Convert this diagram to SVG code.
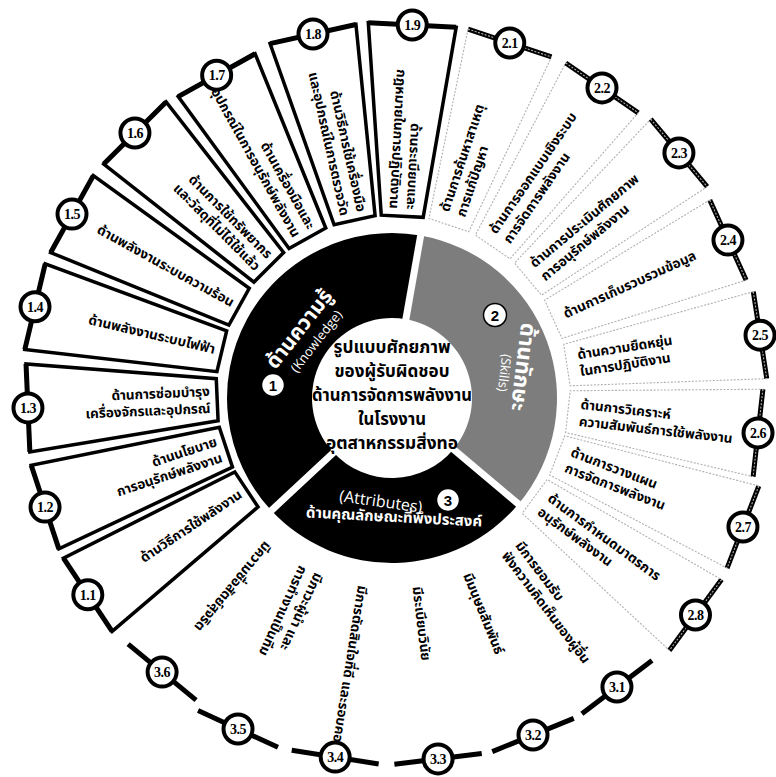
<svg xmlns="http://www.w3.org/2000/svg" width="776" height="777" viewBox="0 0 776 777">
<style>
.ring{stroke:#000;stroke-width:5;fill:none}
.box1{fill:none;stroke:#000;stroke-width:3.5;stroke-linejoin:miter}
.box2{fill:none;stroke:#b0b0b0;stroke-width:1.1;stroke-dasharray:2 1.5}
.node{fill:#fff;stroke:#000;stroke-width:4}
.nl{font-family:'Liberation Serif',serif;font-weight:bold;font-size:14px;text-anchor:middle;letter-spacing:-0.5px}
.ti{font-family:'Noto Sans Thai','Noto Sans Thai UI',Tahoma,'Noto Sans','DejaVu Sans',sans-serif;font-weight:bold;font-size:13.5px;fill:#000}
.in{text-anchor:end}
.sep{stroke:#fff;stroke-width:7}
.ctr{font-family:'Noto Sans Thai','Noto Sans Thai UI',Tahoma,'Noto Sans','DejaVu Sans',sans-serif;font-weight:bold;font-size:17px;text-anchor:middle;fill:#000}
.seg{font-family:'Noto Sans Thai','Noto Sans Thai UI',Tahoma,'Noto Sans','DejaVu Sans',sans-serif;font-weight:bold;fill:#fff;text-anchor:middle}
.lat{font-family:'Open Sans','Noto Sans',sans-serif;fill:#fff;text-anchor:middle}
.num{fill:#fff;stroke:#000;stroke-width:1.5}
.numt{font-family:'Liberation Sans',sans-serif;font-weight:bold;font-size:15px;text-anchor:middle;fill:#000}
</style>
<rect width="776" height="777" fill="#fff"/>

<g id="hub">
 <g id="seg1">
  <path fill="#000" d="M 271.33,510.53 A 165 165 0 0 1 420.65,235.51 L 405.89,319.22 A 80 80 0 0 0 333.49,452.56 Z"/>
  <text class="seg" font-size="21" transform="translate(299,329) rotate(-52)" y="7">ด้านความรู้</text>
  <text class="lat" font-size="13" transform="translate(316,341) rotate(-52)" y="5">(Knowledge)</text>
  <circle class="num" cx="273" cy="385" r="11.5"/><text class="numt" x="273" y="390.5">1</text>
 </g>
 <g id="seg2">
  <path fill="#7d7d7d" d="M 420.65,235.51 A 165 165 0 0 1 518.40,504.06 L 453.28,449.42 A 80 80 0 0 0 405.89,319.22 Z"/>
  <text class="seg" font-size="22" transform="translate(523,367) rotate(97)" y="7">ด้านทักษะ</text>
  <text class="lat" font-size="13" transform="translate(505,373) rotate(97)" y="5">(Skills)</text>
  <circle class="num" cx="495" cy="315" r="11.5"/><text class="numt" x="495" y="320.5">2</text>
 </g>
 <g id="seg3">
  <path fill="#000" d="M 518.40,504.06 A 165 165 0 0 1 271.33,510.53 L 333.49,452.56 A 80 80 0 0 0 453.28,449.42 Z"/>
  <text class="lat" font-size="16" transform="translate(381,501) rotate(8)" y="6">(Attributes)</text>
  <text class="seg" font-size="15" transform="translate(394,517) rotate(3)" y="5">ด้านคุณลักษณะที่พึงประสงค์</text>
  <circle class="num" cx="448" cy="500" r="11.5"/><text class="numt" x="448" y="505.5">3</text>
 </g>
 <line class="sep" x1="405.54" y1="321.18" x2="421.17" y2="232.55"/>
 <line class="sep" x1="451.75" y1="447.86" x2="520.69" y2="505.99"/>
 <line class="sep" x1="334.95" y1="451.20" x2="269.13" y2="512.58"/>
 <g id="center">
  <circle cx="392" cy="398" r="78" fill="#fff"/>
  <text class="ctr" x="392" y="353" textLength="117" lengthAdjust="spacingAndGlyphs">รูปแบบศักยภาพ</text>
  <text class="ctr" x="392" y="377" textLength="115" lengthAdjust="spacingAndGlyphs">ของผู้รับผิดชอบ</text>
  <text class="ctr" x="392" y="401" textLength="160" lengthAdjust="spacingAndGlyphs">ด้านการจัดการพลังงาน</text>
  <text class="ctr" x="392" y="425" textLength="68" lengthAdjust="spacingAndGlyphs">ในโรงงาน</text>
  <text class="ctr" x="392" y="449" textLength="132" lengthAdjust="spacingAndGlyphs">อุตสาหกรรมสิ่งทอ</text>
 </g>
</g>

<g id="connectors">
 <line class="ring" transform="translate(393,392) rotate(-87)" x1="367.5" y1="-44" x2="367.5" y2="44"/>
 <line class="ring" transform="translate(393,392) rotate(-71.5)" x1="368" y1="-44" x2="368" y2="44"/>
 <line class="ring" transform="translate(393,392) rotate(-55.5)" x1="369" y1="-44" x2="369" y2="44"/>
 <line class="ring" transform="translate(393,392) rotate(-39.9)" x1="372.7" y1="-44" x2="372.7" y2="44"/>
 <line class="ring" transform="translate(393,392) rotate(-24.4)" x1="367.8" y1="-44" x2="367.8" y2="44"/>
 <line class="ring" transform="translate(393,392) rotate(-8.8)" x1="371.4" y1="-44" x2="371.4" y2="44"/>
 <line class="ring" transform="translate(393,392) rotate(6.4)" x1="367.3" y1="-44" x2="367.3" y2="44"/>
 <line class="ring" transform="translate(393,392) rotate(21.1)" x1="375.1" y1="-44" x2="375.1" y2="44"/>
 <line class="ring" transform="translate(393,392) rotate(36.4)" x1="375.8" y1="-44" x2="375.8" y2="44"/>
 <line class="ring" transform="translate(393,392) rotate(52.8)" x1="370.4" y1="-44" x2="370.4" y2="44"/>
 <line class="ring" transform="translate(393,392) rotate(67.8)" x1="370.5" y1="-44" x2="370.5" y2="44"/>
 <line class="ring" transform="translate(393,392) rotate(83)" x1="369.7" y1="-44" x2="369.7" y2="44"/>
 <line class="ring" transform="translate(393,392) rotate(99)" x1="369.6" y1="-44" x2="369.6" y2="44"/>
 <line class="ring" transform="translate(393,392) rotate(114.7)" x1="370.9" y1="-44" x2="370.9" y2="44"/>
 <line class="ring" transform="translate(393,392) rotate(129.5)" x1="363" y1="-44" x2="363" y2="44"/>
 <line class="ring" transform="translate(393,392) rotate(146.4)" x1="366.4" y1="-44" x2="366.4" y2="44"/>
 <line class="ring" transform="translate(393,392) rotate(161.7)" x1="366.5" y1="-44" x2="366.5" y2="44"/>
 <line class="ring" transform="translate(393,392) rotate(177.5)" x1="365.4" y1="-44" x2="365.4" y2="44"/>
 <line class="ring" transform="translate(393,392) rotate(193.4)" x1="368" y1="-44" x2="368" y2="44"/>
 <line class="ring" transform="translate(393,392) rotate(209)" x1="367" y1="-44" x2="367" y2="44"/>
 <line class="ring" transform="translate(393,392) rotate(225.1)" x1="365.6" y1="-44" x2="365.6" y2="44"/>
 <line class="ring" transform="translate(393,392) rotate(240.9)" x1="362.6" y1="-44" x2="362.6" y2="44"/>
 <line class="ring" transform="translate(393,392) rotate(257.4)" x1="366.8" y1="-44" x2="366.8" y2="44"/>
</g>

<!-- Knowledge items -->
<g id="item-1-1" transform="translate(393,392) rotate(146.4)">
 <polygon class="box1" points="366.4,-44 366.4,44 176,21 176,-21"/>
 <g transform="rotate(180)"><text class="ti in" x="-183" y="4.5">ด้านวิธีการใช้พลังงาน</text></g>
 <g transform="translate(366.4,0) rotate(-146.4)"><circle class="node" r="14.5"/><text class="nl" y="5">1.1</text></g>
</g>
<g id="item-1-2" transform="translate(393,392) rotate(161.7)">
 <polygon class="box1" points="366.5,-44 366.5,44 176,21 176,-21"/>
 <g transform="rotate(180)"><text class="ti in" x="-183" y="-4">ด้านนโยบาย</text><text class="ti in" x="-183" y="13">การอนุรักษ์พลังงาน</text></g>
 <g transform="translate(366.5,0) rotate(-161.7)"><circle class="node" r="14.5"/><text class="nl" y="5">1.2</text></g>
</g>
<g id="item-1-3" transform="translate(393,392) rotate(177.5)">
 <polygon class="box1" points="365.4,-44 365.4,44 176,21 176,-21"/>
 <g transform="rotate(180)"><text class="ti in" x="-183" y="-4">ด้านการซ่อมบำรุง</text><text class="ti in" x="-183" y="13">เครื่องจักรและอุปกรณ์</text></g>
 <g transform="translate(365.4,0) rotate(-177.5)"><circle class="node" r="14.5"/><text class="nl" y="5">1.3</text></g>
</g>
<g id="item-1-4" transform="translate(393,392) rotate(193.4)">
 <polygon class="box1" points="368,-44 368,44 176,21 176,-21"/>
 <g transform="rotate(180)"><text class="ti in" x="-183" y="4.5">ด้านพลังงานระบบไฟฟ้า</text></g>
 <g transform="translate(368,0) rotate(-193.4)"><circle class="node" r="14.5"/><text class="nl" y="5">1.4</text></g>
</g>
<g id="item-1-5" transform="translate(393,392) rotate(209)">
 <polygon class="box1" points="367,-44 367,44 176,21 176,-21"/>
 <g transform="rotate(180)"><text class="ti in" x="-183" y="4.5">ด้านพลังงานระบบความร้อน</text></g>
 <g transform="translate(367,0) rotate(-209)"><circle class="node" r="14.5"/><text class="nl" y="5">1.5</text></g>
</g>
<g id="item-1-6" transform="translate(393,392) rotate(225.1)">
 <polygon class="box1" points="365.6,-44 365.6,44 176,21 176,-21"/>
 <g transform="rotate(180)"><text class="ti in" x="-183" y="-4">ด้านการใช้ทรัพยากร</text><text class="ti in" x="-183" y="13">และวัสดุที่ไม่ได้ใช้แล้ว</text></g>
 <g transform="translate(365.6,0) rotate(-225.1)"><circle class="node" r="14.5"/><text class="nl" y="5">1.6</text></g>
</g>
<g id="item-1-7" transform="translate(393,392) rotate(240.9)">
 <polygon class="box1" points="362.6,-44 362.6,44 176,21 176,-21"/>
 <g transform="rotate(180)"><text class="ti in" x="-183" y="-4">ด้านเครื่องมือและ</text><text class="ti in" x="-183" y="13">อุปกรณ์ในการอนุรักษ์พลังงาน</text></g>
 <g transform="translate(362.6,0) rotate(-240.9)"><circle class="node" r="14.5"/><text class="nl" y="5">1.7</text></g>
</g>
<g id="item-1-8" transform="translate(393,392) rotate(257.4)">
 <polygon class="box1" points="366.8,-44 366.8,44 176,21 176,-21"/>
 <g transform="rotate(180)"><text class="ti in" x="-183" y="-4">ด้านวิธีการใช้เครื่องมือ</text><text class="ti in" x="-183" y="13">และอุปกรณ์ในการตรวจวัด</text></g>
 <g transform="translate(366.8,0) rotate(-257.4)"><circle class="node" r="14.5"/><text class="nl" y="5">1.8</text></g>
</g>
<g id="item-1-9" transform="translate(393,392) rotate(-87)">
 <polygon class="box1" points="367.5,-44 367.5,44 176,21 176,-21"/>
 <g transform="rotate(180)"><text class="ti in" x="-183" y="-4">ด้านระเบียบและ</text><text class="ti in" x="-183" y="13">กฎหมายในการปฏิบัติงาน</text></g>
 <g transform="translate(367.5,0) rotate(87)"><circle class="node" r="14.5"/><text class="nl" y="5">1.9</text></g>
</g>

<!-- Skills items -->
<g id="item-2-1" transform="translate(393,392) rotate(-71.5)">
 <polygon class="box2" points="368,-44 368,44 176,21 176,-21"/>
 <text class="ti" x="188" y="-4">ด้านการค้นหาสาเหตุ</text><text class="ti" x="188" y="13">การแก้ปัญหา</text>
 <g transform="translate(368,0) rotate(71.5)"><circle class="node" r="14.5"/><text class="nl" y="5">2.1</text></g>
</g>
<g id="item-2-2" transform="translate(393,392) rotate(-55.5)">
 <polygon class="box2" points="369,-44 369,44 176,21 176,-21"/>
 <text class="ti" x="188" y="-4">ด้านการออกแบบเชิงระบบ</text><text class="ti" x="188" y="13">การจัดการพลังงาน</text>
 <g transform="translate(369,0) rotate(55.5)"><circle class="node" r="14.5"/><text class="nl" y="5">2.2</text></g>
</g>
<g id="item-2-3" transform="translate(393,392) rotate(-39.9)">
 <polygon class="box2" points="372.7,-44 372.7,44 176,21 176,-21"/>
 <text class="ti" x="188" y="-4">ด้านการประเมินศักยภาพ</text><text class="ti" x="188" y="13">การอนุรักษ์พลังงาน</text>
 <g transform="translate(372.7,0) rotate(39.9)"><circle class="node" r="14.5"/><text class="nl" y="5">2.3</text></g>
</g>
<g id="item-2-4" transform="translate(393,392) rotate(-24.4)">
 <polygon class="box2" points="367.8,-44 367.8,44 176,21 176,-21"/>
 <text class="ti" x="188" y="4.5">ด้านการเก็บรวบรวมข้อมูล</text>
 <g transform="translate(367.8,0) rotate(24.4)"><circle class="node" r="14.5"/><text class="nl" y="5">2.4</text></g>
</g>
<g id="item-2-5" transform="translate(393,392) rotate(-8.8)">
 <polygon class="box2" points="371.4,-44 371.4,44 176,21 176,-21"/>
 <text class="ti" x="188" y="-4">ด้านความยืดหยุ่น</text><text class="ti" x="188" y="13">ในการปฏิบัติงาน</text>
 <g transform="translate(371.4,0) rotate(8.8)"><circle class="node" r="14.5"/><text class="nl" y="5">2.5</text></g>
</g>
<g id="item-2-6" transform="translate(393,392) rotate(6.4)">
 <polygon class="box2" points="367.3,-44 367.3,44 176,21 176,-21"/>
 <text class="ti" x="188" y="-4">ด้านการวิเคราะห์</text><text class="ti" x="188" y="13">ความสัมพันธ์การใช้พลังงาน</text>
 <g transform="translate(367.3,0) rotate(-6.4)"><circle class="node" r="14.5"/><text class="nl" y="5">2.6</text></g>
</g>
<g id="item-2-7" transform="translate(393,392) rotate(21.1)">
 <polygon class="box2" points="375.1,-44 375.1,44 176,21 176,-21"/>
 <text class="ti" x="188" y="-4">ด้านการวางแผน</text><text class="ti" x="188" y="13">การจัดการพลังงาน</text>
 <g transform="translate(375.1,0) rotate(-21.1)"><circle class="node" r="14.5"/><text class="nl" y="5">2.7</text></g>
</g>
<g id="item-2-8" transform="translate(393,392) rotate(36.4)">
 <polygon class="box2" points="375.8,-44 375.8,44 176,21 176,-21"/>
 <text class="ti" x="188" y="-4">ด้านการกำหนดมาตรการ</text><text class="ti" x="188" y="13">อนุรักษ์พลังงาน</text>
 <g transform="translate(375.8,0) rotate(-36.4)"><circle class="node" r="14.5"/><text class="nl" y="5">2.8</text></g>
</g>

<!-- Attributes items -->
<g id="item-3-1" transform="translate(393,392) rotate(52.8)">
 <text class="ti" x="196" y="-4">มีการยอมรับ</text><text class="ti" x="196" y="13">ฟังความคิดเห็นของผู้อื่น</text>
 <g transform="translate(370.4,0) rotate(-52.8)"><circle class="node" r="14.5"/><text class="nl" y="5">3.1</text></g>
</g>
<g id="item-3-2" transform="translate(393,392) rotate(67.8)">
 <text class="ti" x="196" y="4.5">มีมนุษยสัมพันธ์</text>
 <g transform="translate(370.5,0) rotate(-67.8)"><circle class="node" r="14.5"/><text class="nl" y="5">3.2</text></g>
</g>
<g id="item-3-3" transform="translate(393,392) rotate(83)">
 <text class="ti" x="196" y="4.5">มีระเบียบวินัย</text>
 <g transform="translate(369.7,0) rotate(-83)"><circle class="node" r="14.5"/><text class="nl" y="5">3.3</text></g>
</g>
<g id="item-3-4" transform="translate(393,392) rotate(99)">
 <text class="ti" x="196" y="4.5">มีการตัดสินใจที่ดี และรอบคอบ</text>
 <g transform="translate(369.6,0) rotate(-99)"><circle class="node" r="14.5"/><text class="nl" y="5">3.4</text></g>
</g>
<g id="item-3-5" transform="translate(393,392) rotate(114.7)">
 <text class="ti" x="196" y="-4">มีภาวะผู้นำ และ</text><text class="ti" x="196" y="13">การทำงานเป็นทีม</text>
 <g transform="translate(370.9,0) rotate(-114.7)"><circle class="node" r="14.5"/><text class="nl" y="5">3.5</text></g>
</g>
<g id="item-3-6" transform="translate(393,392) rotate(129.5)">
 <text class="ti" x="196" y="4.5">มีความซื่อสัตย์สุจริต</text>
 <g transform="translate(363,0) rotate(-129.5)"><circle class="node" r="14.5"/><text class="nl" y="5">3.6</text></g>
</g>
</svg>
